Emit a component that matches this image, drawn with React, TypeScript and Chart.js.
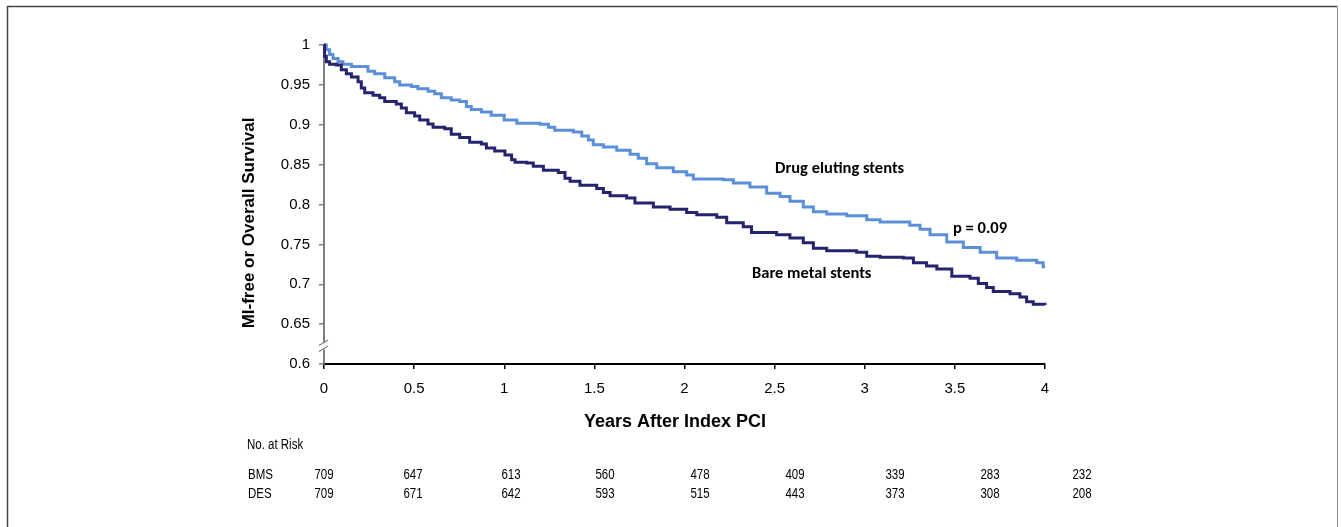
import React, { useEffect, useRef } from 'react';
import { Chart, registerables } from 'chart.js';

Chart.register(...registerables);

// ---- Data ----
const desTimes = [0, 0.013, 0.031, 0.05, 0.078, 0.105, 0.152, 0.244, 0.281, 0.337, 0.392, 0.42, 0.485, 0.521, 0.577, 0.614, 0.651, 0.706, 0.753, 0.79, 0.817, 0.873, 0.928, 1.0, 1.07, 1.198, 1.245, 1.28, 1.383, 1.43, 1.467, 1.494, 1.55, 1.624, 1.698, 1.744, 1.79, 1.846, 1.938, 2.012, 2.049, 2.215, 2.271, 2.363, 2.456, 2.53, 2.585, 2.659, 2.715, 2.789, 2.9, 3.011, 3.085, 3.25, 3.307, 3.362, 3.455, 3.547, 3.64, 3.732, 3.843, 3.954, 3.99, 4.0];
const desSurvival = [1.0, 0.994, 0.988, 0.983, 0.979, 0.976, 0.973, 0.967, 0.964, 0.959, 0.954, 0.95, 0.948, 0.945, 0.942, 0.939, 0.934, 0.931, 0.929, 0.923, 0.919, 0.916, 0.912, 0.906, 0.902, 0.9005, 0.897, 0.893, 0.891, 0.886, 0.881, 0.875, 0.872, 0.868, 0.863, 0.858, 0.851, 0.846, 0.841, 0.837, 0.832, 0.831, 0.827, 0.822, 0.814, 0.81, 0.804, 0.797, 0.791, 0.788, 0.786, 0.781, 0.778, 0.774, 0.769, 0.762, 0.753, 0.746, 0.74, 0.733, 0.73, 0.727, 0.722, 0.722];

const bmsTimes = [0, 0.003, 0.013, 0.031, 0.068, 0.096, 0.124, 0.152, 0.189, 0.207, 0.226, 0.272, 0.309, 0.337, 0.401, 0.429, 0.457, 0.503, 0.531, 0.577, 0.605, 0.67, 0.706, 0.753, 0.808, 0.873, 0.901, 0.947, 1.004, 1.041, 1.06, 1.125, 1.161, 1.217, 1.3, 1.337, 1.365, 1.42, 1.513, 1.55, 1.587, 1.679, 1.725, 1.827, 1.92, 2.012, 2.068, 2.179, 2.234, 2.326, 2.372, 2.511, 2.585, 2.659, 2.715, 2.789, 2.955, 3.011, 3.085, 3.214, 3.27, 3.343, 3.4, 3.483, 3.584, 3.63, 3.676, 3.713, 3.806, 3.861, 3.898, 3.935, 4.0];
const bmsSurvival = [1.0, 0.986, 0.979, 0.976, 0.975, 0.969, 0.964, 0.96, 0.954, 0.946, 0.94, 0.937, 0.934, 0.929, 0.926, 0.921, 0.915, 0.911, 0.906, 0.901, 0.897, 0.895, 0.888, 0.884, 0.878, 0.876, 0.871, 0.867, 0.862, 0.856, 0.853, 0.852, 0.848, 0.843, 0.84, 0.833, 0.829, 0.824, 0.82, 0.815, 0.811, 0.808, 0.802, 0.797, 0.794, 0.79, 0.787, 0.784, 0.777, 0.772, 0.765, 0.762, 0.758, 0.752, 0.745, 0.742, 0.74, 0.735, 0.734, 0.733, 0.727, 0.723, 0.719, 0.71, 0.7075, 0.701, 0.696, 0.691, 0.688, 0.684, 0.678, 0.675, 0.674];

const xTickValues = [0, 0.5, 1, 1.5, 2, 2.5, 3, 3.5, 4];
const yTickValues = [0.6, 0.65, 0.7, 0.75, 0.8, 0.85, 0.9, 0.95, 1];

const riskGroups = ['BMS', 'DES'];
const riskBMS = [709, 647, 613, 560, 478, 409, 339, 283, 232];
const riskDES = [709, 671, 642, 593, 515, 443, 373, 308, 208];

const xTitle = 'Years After Index PCI';
const yTitle = 'MI-free or Overall Survival';
const riskTitle = 'No. at Risk';
const desLabel = 'Drug eluting stents';
const bmsLabel = 'Bare metal stents';
const pLabel = 'p = 0.09';

// ---- Layout / style constants ----
const W = 1341;
const H = 527;
const ARIAL = '"Liberation Sans", Arial, Helvetica, sans-serif';
const CALIBRI = 'Carlito, Lato, "Open Sans", sans-serif';
const riskColumnX = [324, 413, 511, 605, 700, 795, 895, 990, 1082];
const NARROW_SCALE = 0.82;
const BMS_COLOR = '#25246E';
const DES_COLOR = '#5B8FD8';

function narrowText(ctx: CanvasRenderingContext2D, text: string, x: number, y: number) {
  ctx.save();
  ctx.translate(x, y);
  ctx.scale(NARROW_SCALE, 1);
  ctx.fillText(text, 0, 0);
  ctx.restore();
}

const overlay = {
  id: 'overlay',
  afterDraw(chart: any) {
    const ctx = chart.ctx as CanvasRenderingContext2D;
    const xs = chart.scales.x;
    const ys = chart.scales.y;
    ctx.save();

    // outer frame
    ctx.lineWidth = 1.5;
    ctx.strokeStyle = '#444';
    ctx.beginPath();
    ctx.moveTo(7.5, H);
    ctx.lineTo(7.5, 6.5);
    ctx.lineTo(1337, 6.5);
    ctx.stroke();
    ctx.strokeStyle = '#8a8a8a';
    ctx.lineWidth = 1;
    ctx.beginPath();
    ctx.moveTo(1337.5, 6.5);
    ctx.lineTo(1337.5, H);
    ctx.stroke();

    // axis break
    const ax = xs.getPixelForValue(0);
    const yb = ys.getPixelForValue(0.6225);
    ctx.fillStyle = '#fff';
    ctx.fillRect(ax - 3, yb - 3.5, 6, 7);
    ctx.strokeStyle = '#7f7f7f';
    ctx.lineWidth = 1.2;
    ctx.beginPath();
    ctx.moveTo(ax - 5, yb - 0.5);
    ctx.lineTo(ax + 4, yb - 6);
    ctx.moveTo(ax - 5, yb + 5.5);
    ctx.lineTo(ax + 4, yb);
    ctx.stroke();

    // axis titles
    ctx.fillStyle = '#000';
    ctx.font = `bold 18px ${ARIAL}`;
    ctx.textAlign = 'center';
    ctx.textBaseline = 'alphabetic';
    ctx.fillText(xTitle, 675, 427);

    ctx.save();
    ctx.translate(254, 223);
    ctx.rotate(-Math.PI / 2);
    ctx.font = `bold 17px ${ARIAL}`;
    ctx.fillText(yTitle, 0, 0);
    ctx.restore();

    // curve annotations
    ctx.textAlign = 'left';
    ctx.font = `bold 16.5px ${CALIBRI}`;
    ctx.fillText(desLabel, 775, 173);
    ctx.fillText(pLabel, 953, 233);
    ctx.fillText(bmsLabel, 752, 278);

    // number at risk table
    ctx.font = `14px ${ARIAL}`;
    ctx.textBaseline = 'middle';
    ctx.textAlign = 'left';
    narrowText(ctx, riskTitle, 247, 445);
    const rows = [riskBMS, riskDES];
    const rowY = [475.5, 494];
    rows.forEach((row, r) => {
      ctx.textAlign = 'left';
      narrowText(ctx, riskGroups[r], 248, rowY[r]);
      ctx.textAlign = 'center';
      row.forEach((v, i) => narrowText(ctx, String(v), riskColumnX[i], rowY[r]));
    });

    ctx.restore();
  },
};

export default function App() {
  const ref = useRef<HTMLCanvasElement | null>(null);

  useEffect(() => {
    document.body.style.margin = '0';
    const canvas = ref.current;
    if (!canvas) return;
    const chart = new Chart(canvas, {
      type: 'line',
      data: {
        datasets: [
          {
            label: 'Bare metal stents',
            data: bmsTimes.map((t, i) => ({ x: t, y: bmsSurvival[i] })),
            borderColor: BMS_COLOR,
            backgroundColor: BMS_COLOR,
            borderWidth: 3,
            stepped: 'before',
            pointRadius: 0,
            clip: 6,
          },
          {
            label: 'Drug eluting stents',
            data: desTimes.map((t, i) => ({ x: t, y: desSurvival[i] })),
            borderColor: DES_COLOR,
            backgroundColor: DES_COLOR,
            borderWidth: 3,
            stepped: 'before',
            pointRadius: 0,
            clip: 6,
          },
        ],
      },
      options: {
        responsive: false,
        animation: false,
        devicePixelRatio: 1,
        layout: { padding: { left: 264, top: 45, right: 296, bottom: 103 } },
        plugins: { legend: { display: false }, tooltip: { enabled: false } },
        scales: {
          x: {
            type: 'linear',
            min: 0,
            max: 4,
            afterBuildTicks: (s: any) => {
              s.ticks = xTickValues.map((v) => ({ value: v }));
            },
            afterFit: (s: any) => {
              s.height = 60;
            },
            grid: {
              display: true,
              drawOnChartArea: false,
              drawTicks: true,
              tickLength: 5,
              color: '#000',
              lineWidth: 1.5,
            },
            border: { display: true, color: '#000', width: 2 },
            ticks: {
              padding: 11,
              color: '#000',
              maxRotation: 0,
              autoSkip: false,
              font: { family: ARIAL, size: 15 },
              callback: (v: any) => String(v),
            },
          },
          y: {
            type: 'linear',
            min: 0.6,
            max: 1,
            afterBuildTicks: (s: any) => {
              s.ticks = yTickValues.map((v) => ({ value: v }));
            },
            afterFit: (s: any) => {
              s.width = 60;
            },
            grid: {
              display: true,
              drawOnChartArea: false,
              drawTicks: true,
              tickLength: 5,
              color: '#7f7f7f',
              lineWidth: 1.5,
            },
            border: { display: true, color: '#7f7f7f', width: 2 },
            ticks: {
              padding: 9,
              color: '#000',
              autoSkip: false,
              font: { family: ARIAL, size: 15 },
              callback: (v: any) => String(v),
            },
          },
        },
      },
      plugins: [overlay],
    });
    return () => chart.destroy();
  }, []);

  return (
    <div style={{ width: W, height: H, position: 'relative', background: '#fff' }}>
      <canvas ref={ref} width={W} height={H} style={{ display: 'block', width: W, height: H }} />
    </div>
  );
}
